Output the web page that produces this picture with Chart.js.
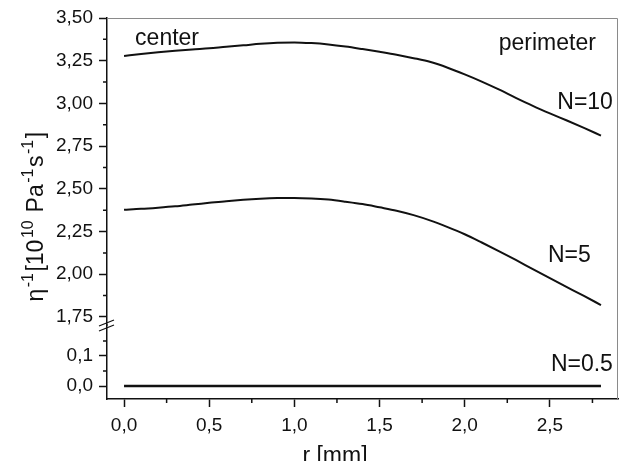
<!DOCTYPE html>
<html>
<head>
<meta charset="utf-8">
<script src="https://cdn.jsdelivr.net/npm/chart.js@4.4.1/dist/chart.umd.min.js"></script>
<style>
  html, body { margin: 0; padding: 0; background: #fff; }
</style>
</head>
<body>
<canvas id="viscChart" width="624" height="461"></canvas>
<script>
// radial position r [mm]
const radius = [0.0, 0.1, 0.2, 0.3, 0.4, 0.5, 0.6, 0.7, 0.8, 0.9,
                1.0, 1.1, 1.2, 1.3, 1.4, 1.5, 1.6, 1.7, 1.8, 1.9,
                2.0, 2.1, 2.2, 2.3, 2.4, 2.5, 2.6, 2.7, 2.8];

// inverse viscosity, 10^10 Pa^-1 s^-1
const invViscN10 = [3.278, 3.289, 3.299, 3.308, 3.316, 3.323, 3.332, 3.340, 3.349, 3.355,
                    3.357, 3.353, 3.345, 3.333, 3.318, 3.302, 3.285, 3.265, 3.242, 3.209,
                    3.170, 3.128, 3.082, 3.033, 2.986, 2.942, 2.900, 2.857, 2.812];
const invViscN5 = [2.378, 2.383, 2.390, 2.398, 2.408, 2.418, 2.428, 2.436, 2.442, 2.446,
                   2.447, 2.444, 2.437, 2.425, 2.411, 2.392, 2.372, 2.346, 2.314, 2.276,
                   2.234, 2.186, 2.136, 2.084, 2.030, 1.977, 1.925, 1.873, 1.820];
const invViscN05 = [0, 0, 0, 0, 0, 0, 0, 0, 0, 0,
                    0, 0, 0, 0, 0, 0, 0, 0, 0, 0,
                    0, 0, 0, 0, 0, 0, 0, 0, 0];

const xTicks = [0, 0.5, 1.0, 1.5, 2.0, 2.5];
const xMinorTicks = [0.25, 0.75, 1.25, 1.75, 2.25, 2.75];
const upperTicks = [1.75, 2.0, 2.25, 2.5, 2.75, 3.0, 3.25, 3.5];
const upperMinorTicks = [1.875, 2.125, 2.375, 2.625, 2.875, 3.125, 3.375];
const lowerTicks = [0.0, 0.1];
const lowerMinorTicks = [0.05, 0.15];

// text placed inside the plot, in axis units
const notes = [
  { text: 'center', r: 0.065, v: 3.344, axis: 'yHigh', align: 'left' },
  { text: 'perimeter', r: 2.77, v: 3.314, axis: 'yHigh', align: 'right' },
  { text: 'N=10', r: 2.87, v: 2.967, axis: 'yHigh', align: 'right' },
  { text: 'N=5', r: 2.74, v: 2.073, axis: 'yHigh', align: 'right' },
  { text: 'N=0.5', r: 2.87, v: 0.05, axis: 'yLow', align: 'right' }
];

const FONT = '"Liberation Sans", Arial, sans-serif';
const INK = '#111';

const toPoints = ys => radius.map((r, i) => ({ x: r, y: ys[i] }));
const fixedTicks = values => scale => { scale.ticks = values.map(v => ({ value: v })); };
const comma = digits => v => Number(v).toFixed(digits).replace('.', ',');

function axisStyle(extra) {
  return Object.assign({
    type: 'linear',
    grid: { drawOnChartArea: false, tickLength: 8, tickWidth: 1.5, tickColor: INK },
    border: { color: INK, width: 1.5 },
  }, extra);
}

const yTicks = digits => ({
  font: { family: FONT, size: 19 }, color: INK, padding: 6,
  autoSkip: false, callback: comma(digits)
});

// frame, minor ticks, axis break, titles and curve labels
const extras = {
  id: 'extras',
  afterDraw(chart) {
    const ctx = chart.ctx;
    const area = chart.chartArea;
    const sx = chart.scales.x, sHi = chart.scales.yHigh, sLo = chart.scales.yLow;
    ctx.save();

    // light frame on top and right
    ctx.strokeStyle = '#8a8a8a';
    ctx.lineWidth = 1;
    ctx.beginPath();
    ctx.moveTo(area.left, area.top + 0.5);
    ctx.lineTo(area.right - 0.5, area.top + 0.5);
    ctx.lineTo(area.right - 0.5, area.bottom);
    ctx.stroke();

    // minor ticks
    ctx.strokeStyle = INK;
    ctx.lineWidth = 1.5;
    ctx.beginPath();
    xMinorTicks.forEach(v => {
      const px = sx.getPixelForValue(v);
      ctx.moveTo(px, area.bottom); ctx.lineTo(px, area.bottom + 4);
    });
    upperMinorTicks.forEach(v => {
      const py = sHi.getPixelForValue(v);
      ctx.moveTo(area.left, py); ctx.lineTo(area.left - 4, py);
    });
    lowerMinorTicks.forEach(v => {
      const py = sLo.getPixelForValue(v);
      ctx.moveTo(area.left, py); ctx.lineTo(area.left - 4, py);
    });
    ctx.stroke();

    // axis break marks
    const yb = sHi.bottom;
    ctx.lineWidth = 1.3;
    ctx.beginPath();
    ctx.moveTo(area.left - 8, yb + 1); ctx.lineTo(area.left + 7, yb - 5);
    ctx.moveTo(area.left - 8, yb + 6); ctx.lineTo(area.left + 7, yb);
    ctx.stroke();

    // curve labels
    ctx.fillStyle = INK;
    ctx.font = '23px ' + FONT;
    ctx.textBaseline = 'alphabetic';
    notes.forEach(n => {
      ctx.textAlign = n.align;
      ctx.fillText(n.text, sx.getPixelForValue(n.r), chart.scales[n.axis].getPixelForValue(n.v));
    });

    // x title
    ctx.textAlign = 'center';
    ctx.font = '23px ' + FONT;
    ctx.fillText('r [mm]', 335, 463);

    // y title with superscripts, rotated
    const parts = [
      ['\u03b7', false], ['-1', true], ['[10', false], ['10', true],
      [' Pa', false], ['-1', true], ['s', false], ['-1', true], [']', false]
    ];
    const mainFont = '23px ' + FONT, supFont = '16px ' + FONT;
    const gap = 1.5;
    let total = 0;
    parts.forEach(([t, sup]) => { ctx.font = sup ? supFont : mainFont; total += ctx.measureText(t).width + gap; });
    ctx.translate(43, 216 + total / 2);
    ctx.rotate(-Math.PI / 2);
    ctx.textAlign = 'left';
    let x = 0;
    parts.forEach(([t, sup]) => {
      ctx.font = sup ? supFont : mainFont;
      ctx.fillText(t, x, sup ? -10 : 0);
      x += ctx.measureText(t).width + gap;
    });
    ctx.restore();
  }
};

new Chart(document.getElementById('viscChart'), {
  type: 'line',
  data: {
    datasets: [
      { label: 'N=10', data: toPoints(invViscN10), yAxisID: 'yHigh',
        borderColor: INK, borderWidth: 2, pointRadius: 0, cubicInterpolationMode: 'monotone' },
      { label: 'N=5', data: toPoints(invViscN5), yAxisID: 'yHigh',
        borderColor: INK, borderWidth: 2, pointRadius: 0, cubicInterpolationMode: 'monotone' },
      { label: 'N=0.5', data: toPoints(invViscN05), yAxisID: 'yLow',
        borderColor: INK, borderWidth: 2.6, pointRadius: 0 }
    ]
  },
  options: {
    responsive: false,
    animation: false,
    devicePixelRatio: 1,
    layout: { padding: { top: 18, right: 6, left: 0, bottom: 0 } },
    plugins: { legend: { display: false }, tooltip: { enabled: false } },
    scales: {
      x: axisStyle({
        position: 'bottom', min: -0.1, max: 2.9,
        afterBuildTicks: fixedTicks(xTicks),
        afterFit: s => { s.height = 62; },
        ticks: { font: { family: FONT, size: 19 }, color: INK, padding: 7,
                 maxRotation: 0, autoSkip: false, callback: comma(1) }
      }),
      yLow: axisStyle({
        position: 'left', stack: 'eta', stackWeight: 74,
        min: -0.043, max: 0.203,
        afterBuildTicks: fixedTicks(lowerTicks),
        afterFit: s => { s.width = 107; },
        ticks: yTicks(1)
      }),
      yHigh: axisStyle({
        position: 'left', stack: 'eta', stackWeight: 307,
        min: 1.703, max: 3.5,
        afterBuildTicks: fixedTicks(upperTicks),
        afterFit: s => { s.width = 107; },
        ticks: yTicks(2)
      })
    }
  },
  plugins: [extras]
});
</script>
</body>
</html>
